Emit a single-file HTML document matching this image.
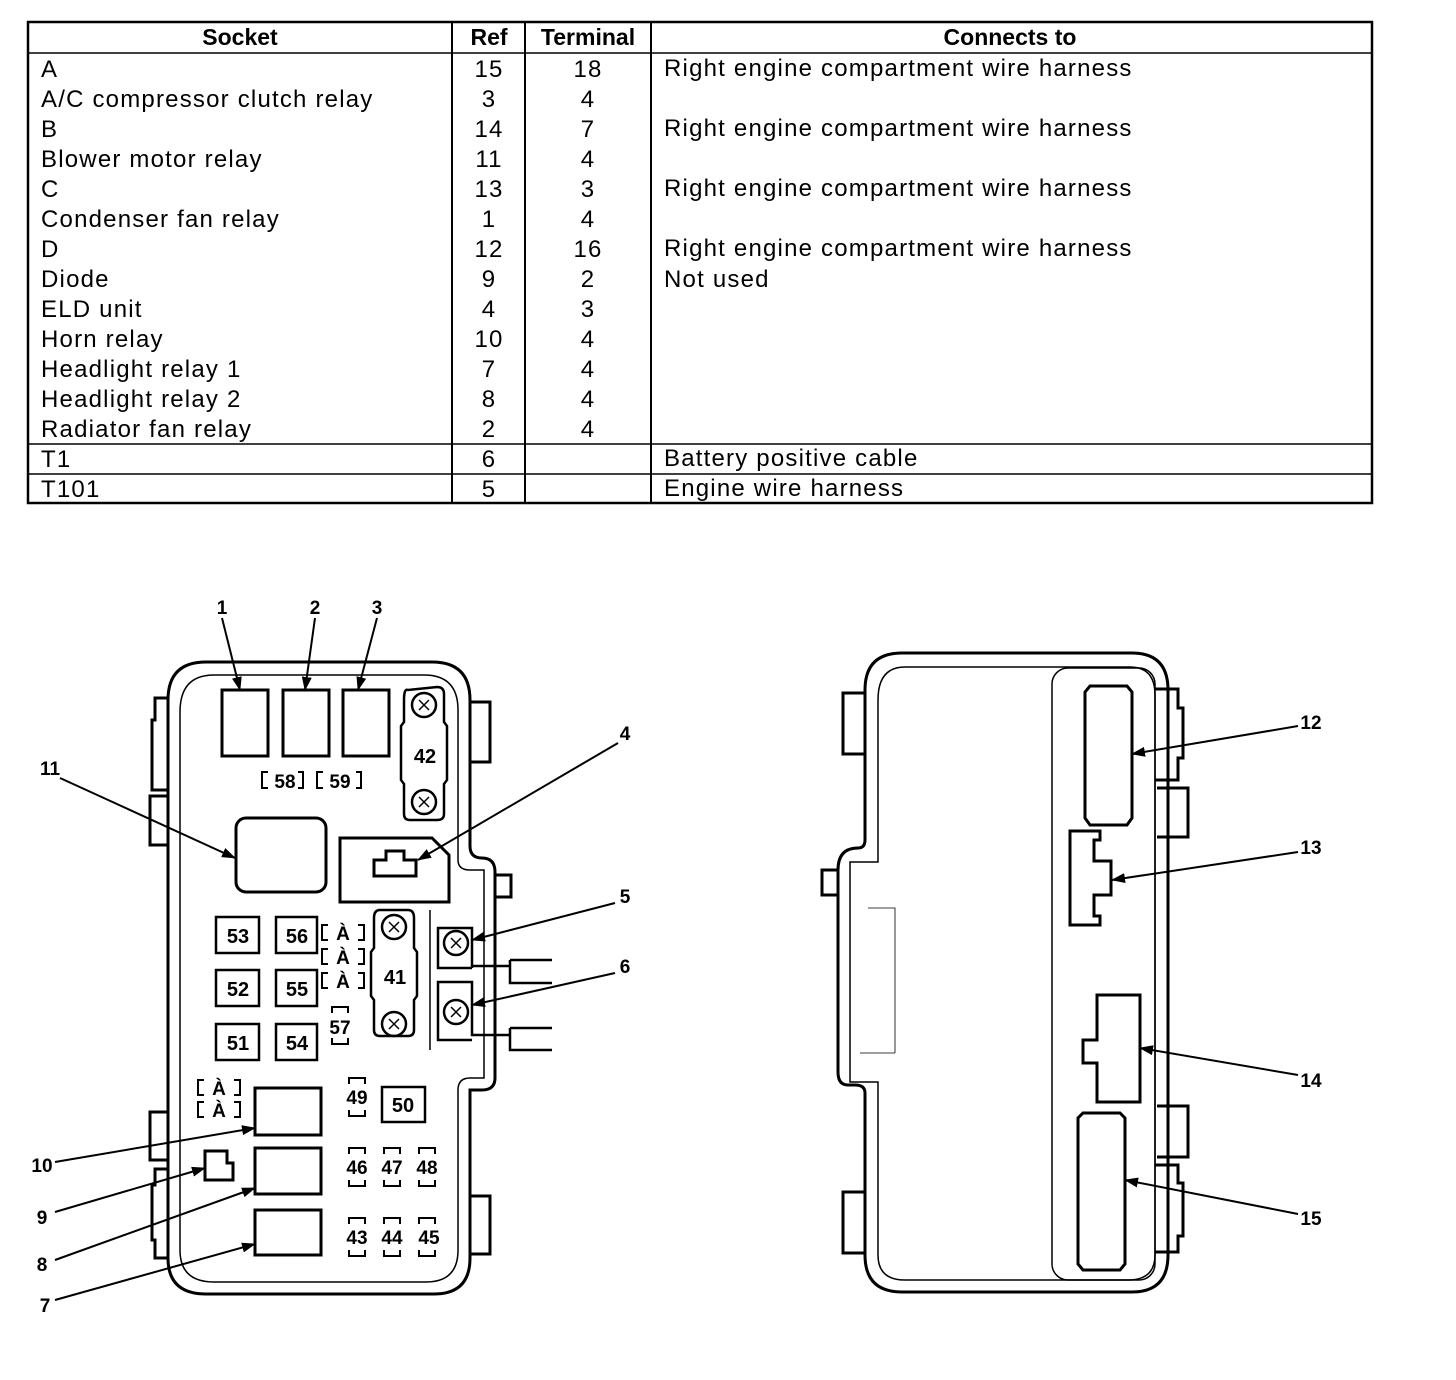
<!DOCTYPE html>
<html><head><style>
html,body{margin:0;padding:0;background:#fff;}
svg{display:block;}
text{font-family:"Liberation Sans",sans-serif;fill:#000;}
.t{font-size:24px;letter-spacing:1.2px;}
.h{font-size:23px;font-weight:bold;}
.b{font-size:20px;font-weight:bold;}
.n{font-size:19px;font-weight:bold;}
</style></head><body>
<svg width="1456" height="1380" viewBox="0 0 1456 1380" xmlns="http://www.w3.org/2000/svg">
<defs><marker id="a" markerWidth="14" markerHeight="10" refX="13" refY="5" orient="auto" markerUnits="userSpaceOnUse"><path d="M0,0 L14,5 L0,10 Z" fill="#000"/></marker></defs>
<g stroke="#000" fill="none">
<rect x="28" y="22" width="1344" height="481" stroke-width="2.5"/>
<line x1="28" y1="53" x2="1372" y2="53" stroke-width="1.5"/>
<line x1="28" y1="444" x2="1372" y2="444" stroke-width="1.5"/>
<line x1="28" y1="474" x2="1372" y2="474" stroke-width="1.5"/>
<line x1="452" y1="22" x2="452" y2="503" stroke-width="2"/>
<line x1="525" y1="22" x2="525" y2="503" stroke-width="2"/>
<line x1="651" y1="22" x2="651" y2="503" stroke-width="2"/>
</g>
<g text-anchor="middle">
<text x="240" y="45" class="h">Socket</text><text x="489" y="45" class="h">Ref</text><text x="588" y="45" class="h">Terminal</text><text x="1010" y="45" class="h">Connects to</text>
</g>
<g class="t">
<text x="41" y="77">A</text><text x="41" y="107">A/C compressor clutch relay</text><text x="41" y="137">B</text><text x="41" y="167">Blower motor relay</text><text x="41" y="197">C</text><text x="41" y="227">Condenser fan relay</text><text x="41" y="257">D</text><text x="41" y="287">Diode</text><text x="41" y="317">ELD unit</text><text x="41" y="347">Horn relay</text><text x="41" y="377">Headlight relay 1</text><text x="41" y="407">Headlight relay 2</text><text x="41" y="437">Radiator fan relay</text><text x="41" y="467">T1</text><text x="41" y="497">T101</text>
</g>
<g class="t" text-anchor="middle">
<text x="489" y="77">15</text><text x="489" y="107">3</text><text x="489" y="137">14</text><text x="489" y="167">11</text><text x="489" y="197">13</text><text x="489" y="227">1</text><text x="489" y="257">12</text><text x="489" y="287">9</text><text x="489" y="317">4</text><text x="489" y="347">10</text><text x="489" y="377">7</text><text x="489" y="407">8</text><text x="489" y="437">2</text><text x="489" y="467">6</text><text x="489" y="497">5</text>
<text x="588" y="77">18</text><text x="588" y="107">4</text><text x="588" y="137">7</text><text x="588" y="167">4</text><text x="588" y="197">3</text><text x="588" y="227">4</text><text x="588" y="257">16</text><text x="588" y="287">2</text><text x="588" y="317">3</text><text x="588" y="347">4</text><text x="588" y="377">4</text><text x="588" y="407">4</text><text x="588" y="437">4</text>
</g>
<g class="t">
<text x="664" y="76">Right engine compartment wire harness</text><text x="664" y="136">Right engine compartment wire harness</text><text x="664" y="196">Right engine compartment wire harness</text><text x="664" y="256">Right engine compartment wire harness</text><text x="664" y="287">Not used</text><text x="664" y="466">Battery positive cable</text><text x="664" y="496">Engine wire harness</text>
</g>

<g stroke="#000" fill="none" stroke-width="3">
<path d="M168,700 Q168,662 206,662 L432,662 Q470,662 470,700 L470,846 Q470,858 482,858 Q495,858 495,872 L495,1078 Q495,1090 482,1090 L470,1090 L470,1258 Q470,1294 434,1294 L206,1294 Q168,1294 168,1258 Z"/>
<path d="M180,712 Q180,675 214,675 L424,675 Q458,675 458,710 L458,860 Q458,870 470,870 L484,870 L484,1078 L470,1078 Q458,1078 458,1090 L458,1250 Q458,1282 426,1282 L214,1282 Q180,1282 180,1250 Z" stroke-width="1.5"/>
<path d="M168,698 L155,698 L155,720 L152,720 L152,790 L168,790"/>
<path d="M168,796 L150,796 L150,845 L168,845"/>
<path d="M168,1112 L150,1112 L150,1160 L168,1160"/>
<path d="M168,1169 L155,1169 L155,1185 L152,1185 L152,1240 L155,1240 L155,1258 L168,1258"/>
<path d="M470,702 L490,702 L490,762 L470,762"/>
<path d="M470,1196 L490,1196 L490,1254 L470,1254"/>
<path d="M495,875 L511,875 L511,897 L495,897"/>
<rect x="222" y="690" width="46" height="66"/><rect x="283" y="690" width="46" height="66"/><rect x="343" y="690" width="46" height="66"/>
<rect x="236" y="818" width="90" height="74" rx="10"/>
<path d="M340,838 L432,838 L449,855 L449,902 L340,902 Z"/>
<path d="M374,860 L374,876 L416,876 L416,860 L404,860 L404,851 L386,851 L386,860 Z"/>
<rect x="255" y="1088" width="66" height="47"/><rect x="255" y="1148" width="66" height="46"/><rect x="255" y="1210" width="66" height="45"/>
<path d="M205,1151 L227,1151 L227,1163 L233,1163 L233,1180 L205,1180 Z"/>
</g>
<g stroke="#000" fill="none" stroke-width="2.5">
<path d="M408,690 Q404,688 404,700 L404,722 L401,726 L401,780 L404,784 L404,814 Q404,820 410,820 L437,820 Q444,820 444,814 L444,784 L447,780 L447,726 L444,722 L444,694 Q444,687 437,687 Z"/>
<path d="M380,910 L408,910 Q414,910 414,918 L414,948 L417,952 L417,996 L414,1000 L414,1030 Q414,1036 408,1036 L380,1036 Q374,1036 374,1030 L374,1000 L371,996 L371,952 L374,948 L374,918 Q374,910 380,910 Z"/>
<circle cx="424" cy="705" r="12"/><circle cx="424" cy="802" r="12"/>
<circle cx="394" cy="927" r="12"/><circle cx="394" cy="1024" r="12"/>
</g>
<g stroke="#000" stroke-width="1.5">
<path d="M419,700 l10,10 M429,700 l-10,10 M419,797 l10,10 M429,797 l-10,10 M389,922 l10,10 M399,922 l-10,10 M389,1019 l10,10 M399,1019 l-10,10"/>
</g>
<text x="425" y="763" class="b" text-anchor="middle">42</text>
<text x="395" y="984" class="b" text-anchor="middle">41</text>
<g stroke="#000" fill="none" stroke-width="2.5">
<rect x="216" y="917" width="43" height="36"/><rect x="276" y="917" width="41" height="36"/>
<rect x="216" y="970" width="43" height="36"/><rect x="276" y="970" width="41" height="36"/>
<rect x="216" y="1024" width="43" height="36"/><rect x="276" y="1024" width="41" height="36"/>
<rect x="382" y="1087" width="43" height="35"/>
</g>
<g class="b" text-anchor="middle">
<text x="238" y="943">53</text><text x="297" y="943">56</text><text x="238" y="996">52</text><text x="297" y="996">55</text><text x="238" y="1050">51</text><text x="297" y="1050">54</text><text x="403" y="1112">50</text>
</g>
<g stroke="#000" fill="none" stroke-width="2">
<path d="M268,772 h-6 v16 h6 M298,772 h5 v16 h-5 M323,772 h-6 v16 h6 M356,772 h5 v16 h-5"/>
<path d="M328,925 h-6 v15 h6 M358,925 h6 v15 h-6 M328,949 h-6 v15 h6 M358,949 h6 v15 h-6 M328,973 h-6 v15 h6 M358,973 h6 v15 h-6"/>
<path d="M204,1080 h-6 v15 h6 M234,1080 h6 v15 h-6 M204,1102 h-6 v15 h6 M234,1102 h6 v15 h-6"/>
<path d="M332,1013 v-6 h16 v6 M332,1038 v6 h16 v-6"/>
<path d="M349,1084 v-6 h16 v6 M349,1110 v6 h16 v-6"/>
<path d="M349,1154 v-6 h16 v6 M349,1180 v6 h16 v-6 M384,1154 v-6 h16 v6 M384,1180 v6 h16 v-6 M419,1154 v-6 h16 v6 M419,1180 v6 h16 v-6"/>
<path d="M349,1224 v-6 h16 v6 M349,1250 v6 h16 v-6 M384,1224 v-6 h16 v6 M384,1250 v6 h16 v-6 M419,1224 v-6 h16 v6 M419,1250 v6 h16 v-6"/>
</g>
<g class="n" text-anchor="middle">
<text x="285" y="788">58</text><text x="340" y="788">59</text>
<text x="343" y="940">À</text><text x="343" y="964">À</text><text x="343" y="988">À</text>
<text x="219" y="1095">À</text><text x="219" y="1117">À</text>
<text x="340" y="1034">57</text><text x="357" y="1104">49</text>
<text x="357" y="1174">46</text><text x="392" y="1174">47</text><text x="427" y="1174">48</text>
<text x="357" y="1244">43</text><text x="392" y="1244">44</text><text x="429" y="1244">45</text>
</g>
<g stroke="#000" fill="none" stroke-width="2.5">
<line x1="430" y1="910" x2="430" y2="1050" stroke-width="1.5"/>
<path d="M472,968 L438,968 L438,928 L472,928 L472,968 L472,966 L510,966"/>
<path d="M510,960 L552,960 M510,960 L510,983 L552,983"/>
<path d="M472,1040 L438,1040 L438,982 L472,982 L472,1035 L510,1035"/>
<path d="M510,1028 L552,1028 M510,1028 L510,1050 L552,1050"/>
<circle cx="456" cy="943" r="12"/><circle cx="456" cy="1012" r="12"/>
</g>
<g stroke="#000" stroke-width="1.5"><path d="M451,938 l10,10 M461,938 l-10,10 M451,1007 l10,10 M461,1007 l-10,10"/></g>
<g stroke="#000" stroke-width="2" fill="none" marker-end="url(#a)">
<line x1="222" y1="618" x2="240" y2="690"/>
<line x1="315" y1="618" x2="305" y2="690"/>
<line x1="377" y1="618" x2="358" y2="690"/>
<line x1="618" y1="743" x2="418" y2="860"/>
<line x1="60" y1="778" x2="235" y2="858"/>
<line x1="615" y1="903" x2="472" y2="940"/>
<line x1="615" y1="973" x2="472" y2="1005"/>
<line x1="55" y1="1162" x2="255" y2="1128"/>
<line x1="55" y1="1212" x2="205" y2="1168"/>
<line x1="55" y1="1260" x2="255" y2="1188"/>
<line x1="55" y1="1300" x2="255" y2="1244"/>
</g>
<g class="n" text-anchor="middle">
<text x="222" y="614">1</text><text x="315" y="614">2</text><text x="377" y="614">3</text><text x="625" y="740">4</text><text x="50" y="775">11</text><text x="625" y="903">5</text><text x="625" y="973">6</text><text x="42" y="1172">10</text><text x="42" y="1224">9</text><text x="42" y="1271">8</text><text x="45" y="1312">7</text>
</g>

<g stroke="#000" fill="none" stroke-width="3">
<path d="M865,690 Q865,653 902,653 L1132,653 Q1168,653 1168,690 L1168,1255 Q1168,1292 1132,1292 L902,1292 Q865,1292 865,1255 L865,1093 Q865,1085 855,1085 L848,1085 Q838,1085 838,1072 L838,870 Q838,848 858,848 Q865,848 865,840 Z"/>
<path d="M878,700 Q878,667 905,667 L1130,667 Q1155,667 1155,695 L1155,1255 Q1155,1280 1128,1280 L905,1280 Q878,1280 878,1255 L878,1082 L850,1082 L850,862 L878,862 Z" stroke-width="1.5"/>
<rect x="1052" y="668" width="103" height="612" rx="16" stroke-width="1.5"/>
<line x1="1168" y1="780" x2="1168" y2="1165" stroke-width="1.5"/>
<path d="M865,693 L843,693 L843,754 L865,754"/>
<path d="M865,1192 L843,1192 L843,1253 L865,1253"/>
<path d="M838,870 L822,870 L822,895 L838,895"/>
<path d="M1155,689 L1178,689 L1178,708 L1183,708 L1183,758 L1178,758 L1178,780 L1155,780"/>
<path d="M1157,788 L1188,788 L1188,837 L1157,837"/>
<path d="M1157,1106 L1188,1106 L1188,1157 L1157,1157"/>
<path d="M1155,1165 L1178,1165 L1178,1183 L1183,1183 L1183,1236 L1178,1236 L1178,1252 L1155,1252"/>
<path d="M1090,686 L1127,686 L1132,692 L1132,818 L1127,825 L1090,825 L1085,818 L1085,692 Z"/>
<path d="M1070,831 L1100,831 L1100,840 L1094,840 L1094,861 L1111,861 L1111,895 L1094,895 L1094,916 L1100,916 L1100,925 L1070,925 Z"/>
<path d="M1097,995 L1140,995 L1140,1102 L1097,1102 L1097,1063 L1083,1063 L1083,1040 L1097,1040 Z"/>
<path d="M1083,1113 L1120,1113 L1125,1118 L1125,1264 L1120,1270 L1083,1270 L1078,1264 L1078,1118 Z"/>
</g>
<path d="M868,908 L895,908 L895,1053 M860,1053 L895,1053" stroke="#000" stroke-width="0.8" fill="none"/>
<g stroke="#000" stroke-width="2" fill="none" marker-end="url(#a)">
<line x1="1298" y1="726" x2="1132" y2="754"/>
<line x1="1298" y1="852" x2="1112" y2="880"/>
<line x1="1298" y1="1075" x2="1140" y2="1048"/>
<line x1="1298" y1="1214" x2="1125" y2="1180"/>
</g>
<g class="n" text-anchor="middle">
<text x="1311" y="729">12</text><text x="1311" y="854">13</text><text x="1311" y="1087">14</text><text x="1311" y="1225">15</text>
</g>
</svg>
</body></html>
